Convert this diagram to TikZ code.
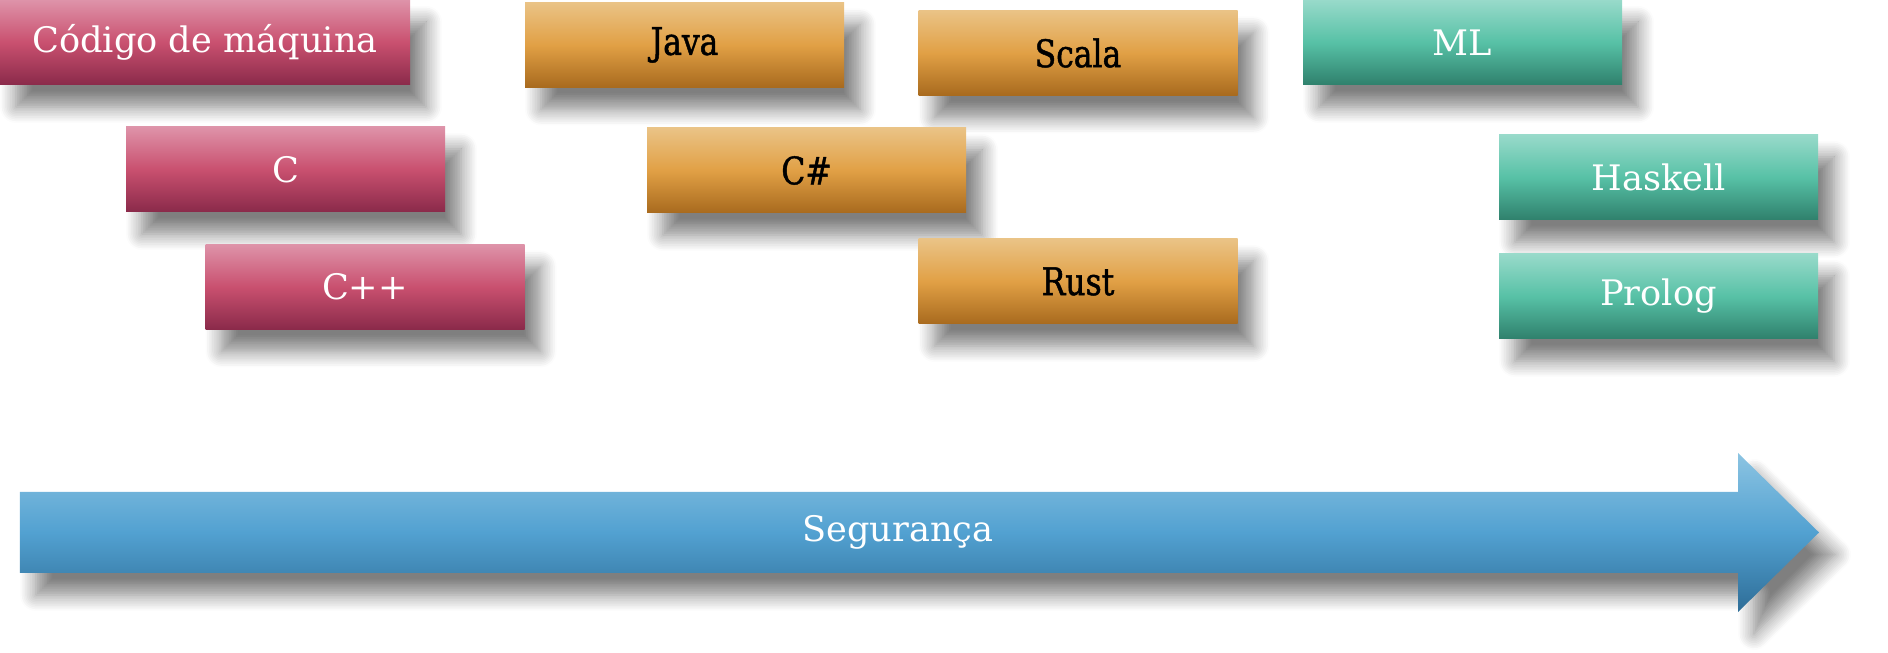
\documentclass[tikz,border=0pt]{standalone}
\usepackage{fontspec}
\setmainfont{DejaVu Serif}
\newfontface\condserif{DejaVu Serif Condensed}[FakeBold=1.2, FakeStretch=0.92]
\usetikzlibrary{shadows.blur}

\definecolor{pinktop}{HTML}{DE93A9}
\definecolor{pinkmid}{HTML}{C9506F}
\definecolor{pinkbot}{HTML}{8A2A4A}
\definecolor{orangetop}{HTML}{EAC386}
\definecolor{orangemid}{HTML}{E1A045}
\definecolor{orangebot}{HTML}{A86A1E}
\definecolor{tealtop}{HTML}{98DACA}
\definecolor{tealmid}{HTML}{57C1A6}
\definecolor{tealbot}{HTML}{2F806C}
\definecolor{bluetop}{HTML}{8CC4E2}
\definecolor{bluemid}{HTML}{52A1D1}
\definecolor{bluebot}{HTML}{2E6D97}

\tikzset{
  softshadow/.style={blur shadow={shadow xshift=0.16cm, shadow yshift=-0.22cm,
    shadow blur radius=0.16cm, shadow opacity=50, shadow blur steps=10}},
  langbox/.style={rectangle, minimum width=3.19cm, minimum height=0.85cm, inner sep=0pt,
    font=\fontsize{10}{12}\selectfont, softshadow},
  pinkbox/.style={langbox, top color=pinktop, bottom color=pinkbot, middle color=pinkmid, text=white},
  orangebox/.style={langbox, top color=orangetop, bottom color=orangebot, middle color=orangemid, text=black,
    font=\condserif\fontsize{10.8}{12}\selectfont},
  tealbox/.style={langbox, top color=tealtop, bottom color=tealbot, middle color=tealmid, text=white}
}

\begin{document}
\begin{tikzpicture}
  \useasboundingbox (0,0) rectangle (18.88,6.53);
  \shade[top color=bluetop, bottom color=bluebot, middle color=bluemid, softshadow]
    (0.20,0.80) -- (17.38,0.80) -- (17.38,0.41) -- (18.19,1.205) -- (17.38,2.00) -- (17.38,1.61) -- (0.20,1.61) -- cycle;
  \node[text=white, font=\fontsize{10}{12}\selectfont] (seg) at (8.98,1.205) {Segurança};

  \node[pinkbox, minimum width=4.10cm] (maq) at (2.05,6.105) {Código de máquina};
  \node[pinkbox] (c) at (2.855,4.835) {C};
  \node[pinkbox] (cpp) at (3.65,3.66) {C++};

  \node[orangebox] (java) at (6.845,6.08) {Java};
  \node[orangebox] (scala) at (10.78,6.0) {Scala};
  \node[orangebox] (csharp) at (8.065,4.825) {C\#};
  \node[orangebox] (rust) at (10.78,3.715) {Rust};

  \node[tealbox] (ml) at (14.625,6.105) {ML};
  \node[tealbox] (haskell) at (16.585,4.755) {Haskell};
  \node[tealbox] (prolog) at (16.585,3.565) {Prolog};
\end{tikzpicture}
\end{document}
